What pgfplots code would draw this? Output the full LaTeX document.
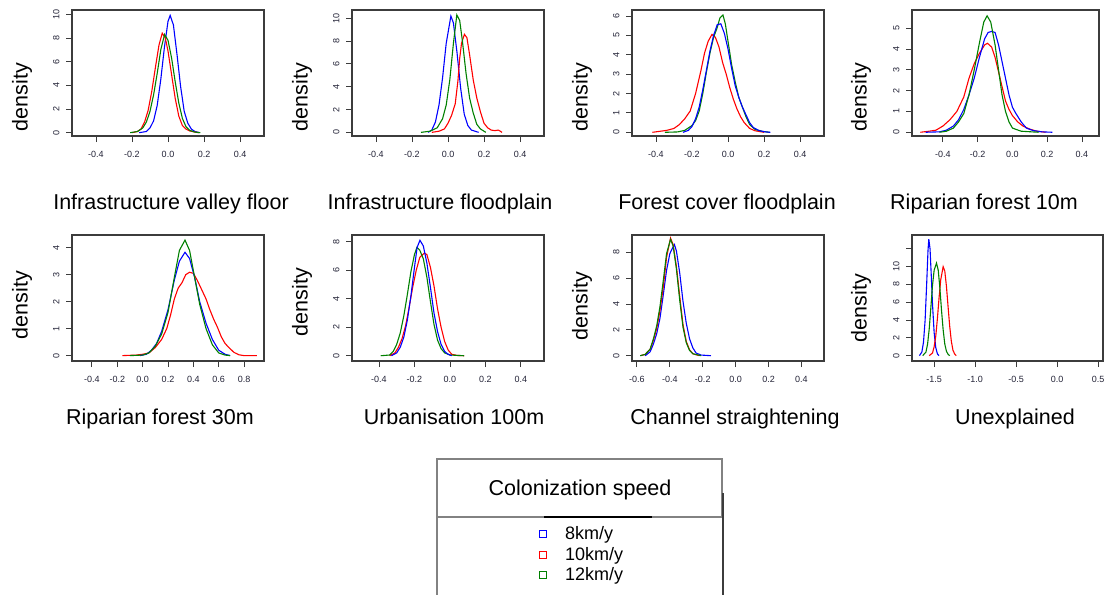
\documentclass[border=0pt]{standalone}
\usepackage{fontspec}
\setmainfont{Liberation Sans}
\usepackage{pgfplots}
\pgfplotsset{compat=1.18}

\definecolor{cblue}{RGB}{0,0,255}
\definecolor{cred}{RGB}{255,0,0}
\definecolor{cgreen}{RGB}{0,128,0}
\definecolor{framec}{RGB}{60,60,60}
\definecolor{legc}{RGB}{130,130,130}
\definecolor{tickc}{RGB}{35,35,55}

\pgfplotsset{
  panel/.style={
    scale only axis, anchor=north west,
    width=192pt, height=126pt,
    axis line style={framec, line width=1.2pt},
    xtick pos=left, ytick pos=left, tick align=outside,
    major tick length=6pt,
    tick style={framec, line width=0.9pt},
    tick label style={font=\fontsize{9}{10}\selectfont, text=tickc},
    /pgf/number format/assume math mode=true,
    xticklabel style={yshift=-6pt},
    yticklabel style={xshift=-3pt, rotate=90, anchor=south},
    clip=false,
    every axis plot/.append style={line width=1.1pt, no marks},
  },
}
\newcommand\bigfont{\fontsize{21.5}{24}\selectfont}

\begin{document}
\begin{tikzpicture}
\path[use as bounding box] (0,0) rectangle (1108pt,-595pt);

% ---------- row 1 ----------
\begin{axis}[panel, at={(72pt,-10pt)},
  xmin=-0.533, xmax=0.533, ymin=-0.28, ymax=10.36,
  xtick={-0.4,-0.2,0,0.2,0.4}, xticklabels={-0.4,-0.2,0.0,0.2,0.4},
  ytick={0,2,4,6,8,10}, yticklabels={0,2,4,6,8,10}]
\addplot[cblue] coordinates {(-0.16,0) (-0.12,0.1) (-0.10,0.4) (-0.08,1.0) (-0.06,2.3) (-0.04,4.5) (-0.02,7.2) (0.0,9.4) (0.012,9.9) (0.03,9.1) (0.05,6.6) (0.07,3.9) (0.09,1.8) (0.11,0.8) (0.13,0.3) (0.15,0.1) (0.175,0)};
\addplot[cred] coordinates {(-0.2,0) (-0.17,0.1) (-0.15,0.3) (-0.13,0.9) (-0.11,1.9) (-0.09,3.5) (-0.07,5.5) (-0.05,7.4) (-0.032,8.4) (-0.015,8.0) (0.0,6.9) (0.02,4.9) (0.04,2.9) (0.06,1.4) (0.08,0.6) (0.10,0.3) (0.12,0.15) (0.15,0.05) (0.17,0)};
\addplot[cgreen] coordinates {(-0.21,0) (-0.17,0.1) (-0.14,0.4) (-0.12,0.9) (-0.10,1.8) (-0.08,3.2) (-0.06,5.0) (-0.04,7.0) (-0.019,8.3) (0.0,7.8) (0.02,6.3) (0.04,4.3) (0.06,2.5) (0.08,1.2) (0.10,0.5) (0.12,0.2) (0.15,0.05) (0.18,0)};
\end{axis}

\begin{axis}[panel, at={(352pt,-10pt)},
  xmin=-0.533, xmax=0.533, ymin=-0.32, ymax=10.73,
  xtick={-0.4,-0.2,0,0.2,0.4}, xticklabels={-0.4,-0.2,0.0,0.2,0.4},
  ytick={0,2,4,6,8,10}, yticklabels={0,2,4,6,8,10}]
\addplot[cblue] coordinates {(-0.11,0) (-0.09,0.2) (-0.07,0.9) (-0.05,2.4) (-0.03,4.8) (-0.01,7.8) (0.016,10.2) (0.03,9.6) (0.05,7.0) (0.07,3.9) (0.09,1.6) (0.11,0.6) (0.13,0.2) (0.17,0)};
\addplot[cred] coordinates {(-0.09,0) (-0.05,0.1) (-0.02,0.3) (0.0,0.8) (0.02,1.5) (0.04,2.5) (0.055,4.5) (0.065,6.5) (0.075,7.8) (0.091,8.6) (0.105,8.3) (0.12,6.8) (0.14,4.6) (0.16,3.0) (0.18,1.8) (0.20,0.8) (0.22,0.4) (0.24,0.2) (0.26,0.15) (0.28,0.2) (0.30,0)};
\addplot[cgreen] coordinates {(-0.15,0) (-0.10,0.1) (-0.06,0.4) (-0.03,1.2) (-0.01,2.4) (0.01,4.6) (0.03,7.8) (0.049,10.3) (0.065,9.8) (0.08,8.0) (0.10,5.2) (0.12,3.0) (0.14,1.7) (0.16,0.7) (0.18,0.3) (0.21,0)};
\end{axis}

\begin{axis}[panel, at={(632pt,-10pt)},
  xmin=-0.533, xmax=0.533, ymin=-0.19, ymax=6.31,
  xtick={-0.4,-0.2,0,0.2,0.4}, xticklabels={-0.4,-0.2,0.0,0.2,0.4},
  ytick={0,1,2,3,4,5,6}, yticklabels={0,1,2,3,4,5,6}]
\addplot[cred] coordinates {(-0.42,0) (-0.38,0.05) (-0.34,0.1) (-0.30,0.2) (-0.27,0.4) (-0.24,0.7) (-0.21,1.1) (-0.18,2.0) (-0.15,3.2) (-0.13,4.1) (-0.11,4.7) (-0.089,5.05) (-0.07,4.9) (-0.05,4.4) (-0.03,3.6) (-0.01,3.0) (0.01,2.3) (0.03,1.7) (0.05,1.2) (0.07,0.8) (0.09,0.5) (0.12,0.2) (0.15,0.08) (0.2,0)};
\addplot[cgreen] coordinates {(-0.35,0) (-0.28,0.02) (-0.24,0.1) (-0.20,0.35) (-0.18,0.6) (-0.16,1.1) (-0.14,2.0) (-0.12,3.1) (-0.10,4.1) (-0.08,4.9) (-0.06,5.4) (-0.045,5.9) (-0.028,6.05) (-0.015,5.6) (0.0,4.7) (0.02,3.5) (0.04,2.6) (0.06,1.8) (0.08,1.3) (0.10,0.8) (0.12,0.4) (0.15,0.15) (0.19,0.05) (0.23,0)};
\addplot[cblue] coordinates {(-0.25,0) (-0.22,0.1) (-0.20,0.3) (-0.18,0.7) (-0.16,1.3) (-0.14,2.2) (-0.12,3.2) (-0.10,4.2) (-0.08,5.0) (-0.06,5.55) (-0.04,5.6) (-0.02,5.1) (0.0,4.3) (0.02,3.3) (0.04,2.4) (0.06,1.8) (0.08,1.3) (0.10,0.9) (0.12,0.5) (0.14,0.25) (0.17,0.1) (0.2,0.03) (0.235,0)};
\end{axis}

\begin{axis}[panel, at={(912pt,-10pt)}, width=187pt,
  xmin=-0.578, xmax=0.498, ymin=-0.18, ymax=5.88,
  xtick={-0.4,-0.2,0,0.2,0.4}, xticklabels={-0.4,-0.2,0.0,0.2,0.4},
  ytick={0,1,2,3,4,5}, yticklabels={0,1,2,3,4,5}]
\addplot[cred] coordinates {(-0.53,0) (-0.48,0.05) (-0.44,0.1) (-0.40,0.3) (-0.36,0.6) (-0.32,1.0) (-0.28,1.7) (-0.25,2.6) (-0.22,3.3) (-0.19,3.8) (-0.16,4.2) (-0.144,4.28) (-0.12,4.1) (-0.10,3.6) (-0.08,2.9) (-0.06,2.2) (-0.04,1.5) (-0.02,1.1) (0.0,0.8) (0.03,0.5) (0.06,0.3) (0.10,0.15) (0.14,0.05) (0.19,0)};
\addplot[cblue] coordinates {(-0.5,0) (-0.42,0.02) (-0.38,0.1) (-0.34,0.3) (-0.31,0.6) (-0.28,1.1) (-0.25,1.8) (-0.22,2.6) (-0.19,3.6) (-0.16,4.5) (-0.14,4.8) (-0.12,4.85) (-0.10,4.8) (-0.08,4.2) (-0.06,3.4) (-0.04,2.6) (-0.02,1.8) (0.0,1.2) (0.02,0.9) (0.05,0.5) (0.08,0.2) (0.12,0.08) (0.17,0.02) (0.23,0)};
\addplot[cgreen] coordinates {(-0.42,0) (-0.38,0.05) (-0.34,0.2) (-0.31,0.5) (-0.28,0.9) (-0.25,1.8) (-0.22,3.0) (-0.19,4.3) (-0.165,5.3) (-0.146,5.6) (-0.125,5.3) (-0.10,4.2) (-0.08,3.0) (-0.06,1.8) (-0.04,1.0) (-0.02,0.5) (0.0,0.2) (0.05,0.05) (0.15,0)};
\end{axis}

% ---------- row 2 ----------
\begin{axis}[panel, at={(72pt,-235pt)},
  xmin=-0.557, xmax=0.957, ymin=-0.2, ymax=4.47,
  xtick={-0.4,-0.2,0,0.2,0.4,0.6,0.8}, xticklabels={-0.4,-0.2,0.0,0.2,0.4,0.6,0.8},
  ytick={0,1,2,3,4}, yticklabels={0,1,2,3,4}]
\addplot[cred] coordinates {(-0.16,0) (-0.05,0.02) (0.0,0.05) (0.05,0.1) (0.10,0.3) (0.15,0.6) (0.19,1.0) (0.22,1.5) (0.25,2.1) (0.28,2.5) (0.31,2.7) (0.34,3.0) (0.37,3.09) (0.40,3.05) (0.43,2.8) (0.47,2.4) (0.50,2.1) (0.53,1.7) (0.56,1.35) (0.59,1.05) (0.62,0.7) (0.65,0.45) (0.68,0.3) (0.72,0.12) (0.76,0.03) (0.80,0) (0.9,0)};
\addplot[cblue] coordinates {(-0.02,0) (0.03,0.05) (0.07,0.2) (0.11,0.45) (0.15,0.9) (0.20,1.7) (0.25,2.8) (0.29,3.5) (0.334,3.83) (0.37,3.6) (0.41,2.9) (0.45,2.0) (0.50,1.2) (0.55,0.6) (0.60,0.2) (0.65,0.05) (0.69,0)};
\addplot[cgreen] coordinates {(-0.1,0) (0.0,0.02) (0.05,0.1) (0.10,0.35) (0.15,0.8) (0.20,1.6) (0.25,2.9) (0.29,3.9) (0.334,4.28) (0.37,3.9) (0.41,2.9) (0.45,1.9) (0.50,1.0) (0.55,0.4) (0.60,0.1) (0.65,0.02) (0.69,0)};
\end{axis}

\begin{axis}[panel, at={(352pt,-235pt)},
  xmin=-0.552, xmax=0.53, ymin=-0.37, ymax=8.47,
  xtick={-0.4,-0.2,0,0.2,0.4}, xticklabels={-0.4,-0.2,0.0,0.2,0.4},
  ytick={0,2,4,6,8}, yticklabels={0,2,4,6,8}]
\addplot[cred] coordinates {(-0.34,0) (-0.31,0.2) (-0.29,0.6) (-0.27,1.2) (-0.25,2.1) (-0.23,3.4) (-0.21,4.8) (-0.19,6.0) (-0.17,6.9) (-0.145,7.2) (-0.13,7.1) (-0.11,6.2) (-0.09,4.9) (-0.07,3.3) (-0.05,2.0) (-0.03,1.0) (-0.01,0.4) (0.01,0.1) (0.04,0.02) (0.08,0)};
\addplot[cgreen] coordinates {(-0.39,0) (-0.34,0.05) (-0.32,0.3) (-0.30,0.8) (-0.28,1.6) (-0.26,2.8) (-0.24,4.3) (-0.22,5.9) (-0.20,7.1) (-0.186,7.6) (-0.17,7.4) (-0.15,6.8) (-0.13,5.5) (-0.11,3.8) (-0.09,2.2) (-0.07,1.1) (-0.05,0.5) (-0.03,0.2) (0.0,0.05) (0.08,0)};
\addplot[cblue] coordinates {(-0.33,0) (-0.30,0.2) (-0.28,0.6) (-0.26,1.3) (-0.24,2.5) (-0.22,4.2) (-0.20,6.2) (-0.185,7.6) (-0.169,8.1) (-0.15,7.7) (-0.13,6.5) (-0.11,4.8) (-0.09,3.0) (-0.07,1.7) (-0.05,0.8) (-0.03,0.3) (-0.01,0.1) (0.01,0)};
\end{axis}

\begin{axis}[panel, at={(632pt,-235pt)},
  xmin=-0.63, xmax=0.537, ymin=-0.41, ymax=9.34,
  xtick={-0.6,-0.4,-0.2,0,0.2,0.4}, xticklabels={-0.6,-0.4,-0.2,0.0,0.2,0.4},
  ytick={0,2,4,6,8}, yticklabels={0,2,4,6,8}]
\addplot[cblue] coordinates {(-0.55,0) (-0.52,0.3) (-0.50,0.9) (-0.48,1.7) (-0.46,2.9) (-0.44,4.7) (-0.42,6.6) (-0.40,7.9) (-0.385,8.3) (-0.372,8.6) (-0.36,8.1) (-0.34,6.4) (-0.32,4.2) (-0.30,2.5) (-0.28,1.3) (-0.26,0.6) (-0.24,0.2) (-0.21,0.05) (-0.15,0)};
\addplot[cred] coordinates {(-0.58,0) (-0.55,0.1) (-0.52,0.5) (-0.50,1.2) (-0.48,2.1) (-0.46,3.5) (-0.44,5.3) (-0.42,7.6) (-0.396,9.1) (-0.38,8.6) (-0.36,6.9) (-0.34,4.6) (-0.32,2.4) (-0.30,1.1) (-0.28,0.45) (-0.26,0.15) (-0.22,0)};
\addplot[cgreen] coordinates {(-0.58,0) (-0.55,0.1) (-0.52,0.5) (-0.50,1.3) (-0.48,2.3) (-0.46,3.8) (-0.44,5.8) (-0.42,7.9) (-0.396,9.0) (-0.38,8.5) (-0.36,6.7) (-0.34,4.3) (-0.32,2.2) (-0.30,1.0) (-0.28,0.4) (-0.26,0.15) (-0.21,0)};
\end{axis}

\begin{axis}[panel, at={(912pt,-235pt)}, width=191pt,
  xmin=-1.77, xmax=0.56, ymin=-0.6, ymax=13.56,
  xtick={-1.5,-1,-0.5,0,0.5}, xticklabels={-1.5,-1.0,-0.5,0.0,0.5},
  ytick={0,2,4,6,8,10,12}, yticklabels={0,2,4,6,8,10,{}}]
\addplot[cblue] coordinates {(-1.68,0) (-1.65,0.4) (-1.63,1.5) (-1.61,4.0) (-1.59,8.3) (-1.575,11.8) (-1.565,13.1) (-1.55,12.0) (-1.535,9.0) (-1.52,5.8) (-1.50,2.6) (-1.48,0.9) (-1.46,0.2) (-1.44,0)};
\addplot[cred] coordinates {(-1.56,0) (-1.52,0.3) (-1.50,1.0) (-1.48,2.2) (-1.46,4.2) (-1.44,6.5) (-1.42,8.5) (-1.39,10.0) (-1.37,9.5) (-1.35,7.8) (-1.33,5.5) (-1.31,3.3) (-1.29,1.6) (-1.27,0.6) (-1.25,0.2) (-1.23,0)};
\addplot[cgreen] coordinates {(-1.64,0) (-1.60,0.4) (-1.58,1.3) (-1.56,3.0) (-1.54,5.4) (-1.52,7.9) (-1.50,9.6) (-1.471,10.4) (-1.45,9.6) (-1.43,7.6) (-1.41,5.1) (-1.39,2.9) (-1.37,1.3) (-1.35,0.5) (-1.33,0.15) (-1.31,0)};
\end{axis}

% ---------- axis titles ----------
\foreach \x/\y in {22/97, 302/97, 582/97, 861/97, 22/305, 302/302, 582/306, 861/308}
  \node[rotate=90, font=\bigfont, inner sep=0pt] at (\x pt,-\y pt) {density};

\node[anchor=base, font=\bigfont, inner sep=0pt] at (171pt,-209pt) {Infrastructure valley floor};
\node[anchor=base, font=\bigfont, inner sep=0pt] at (440pt,-209pt) {Infrastructure floodplain};
\node[anchor=base, font=\bigfont, inner sep=0pt] at (727pt,-209pt) {Forest cover floodplain};
\node[anchor=base, font=\bigfont, inner sep=0pt] at (984pt,-209pt) {Riparian forest 10m};
\node[anchor=base, font=\bigfont, inner sep=0pt] at (160pt,-424pt) {Riparian forest 30m};
\node[anchor=base, font=\bigfont, inner sep=0pt] at (454pt,-424pt) {Urbanisation 100m};
\node[anchor=base, font=\bigfont, inner sep=0pt] at (735pt,-424pt) {Channel straightening};
\node[anchor=base, font=\bigfont, inner sep=0pt] at (1015pt,-424pt) {Unexplained};

% ---------- legend ----------
\draw[legc, line width=1.2pt] (437pt,-459pt) rectangle (722pt,-517pt);
\draw[legc, line width=1.2pt] (437pt,-517pt) -- (437pt,-595pt);
\draw[framec, line width=1.2pt] (723pt,-493pt) -- (723pt,-595pt);
\draw[black, line width=1.5pt] (544pt,-517pt) -- (652pt,-517pt);
\node[anchor=base, font=\bigfont, inner sep=0pt] at (580pt,-495.5pt) {Colonization speed};
\foreach \c/\t/\y in {cblue/8km\slash y/534, cred/10km\slash y/554.5, cgreen/12km\slash y/575}{
  \draw[\c, line width=1pt] (539.5pt,-\y pt+3.5pt) rectangle (546.5pt,-\y pt-3.5pt);
  \node[anchor=west, font=\fontsize{18}{20}\selectfont, inner sep=0pt] at (565pt,-\y pt-1pt) {\t};
}
\end{tikzpicture}
\end{document}
